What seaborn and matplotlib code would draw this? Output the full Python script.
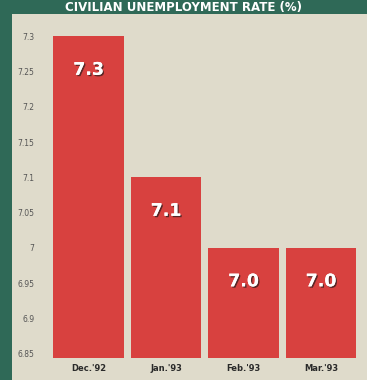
import matplotlib
matplotlib.use("Agg")
import matplotlib.pyplot as plt
import matplotlib.patheffects as pe
import seaborn as sns
import pandas as pd

months = ["Dec.'92", "Jan.'93", "Feb.'93", "Mar.'93"]
rates = [7.3, 7.1, 7.0, 7.0]
value_labels = ["7.3", "7.1", "7.0", "7.0"]
yticks = [6.85, 6.9, 6.95, 7.0, 7.05, 7.1, 7.15, 7.2, 7.25, 7.3]
ytick_labels = ["6.85", "6.9", "6.95", "7", "7.05", "7.1", "7.15", "7.2", "7.25", "7.3"]
title = "CIVILIAN UNEMPLOYMENT RATE (%)"

sns.set_theme(style="white")
plt.rcParams['font.family'] = ['DejaVu Sans']

GREEN = "#2f6957"
BEIGE = "#dfdbcb"
RED = "#d8413f"

fig = plt.figure(figsize=(3.67, 3.80), dpi=100)
fig.patch.set_facecolor(GREEN)

# beige panel as background axes
bg = fig.add_axes([12/367, 0, 1 - 12/367, 1 - 14/380], zorder=0)
bg.set_facecolor(BEIGE)
bg.set_xticks([])
bg.set_yticks([])
for s in bg.spines.values():
    s.set_visible(False)

fig.text(0.5, 1 - 7/380, title, ha="center", va="center", color="white",
         fontsize=8.5, fontweight="bold")

ax = fig.add_axes([49.75/367, 22/380, 310/367, 342/380], zorder=1)
ax.set_facecolor("none")

df = pd.DataFrame({"month": months, "rate": rates})
sns.barplot(data=df, x="month", y="rate", color=RED, saturation=1,
            width=0.916, ax=ax)
for p in ax.patches:
    p.set_edgecolor("none")

ax.set_ylim(6.844, 7.329)
ax.set_xlim(-0.5, 3.5)
ax.set_yticks(yticks)
ax.set_yticklabels(ytick_labels, fontsize=5.5, color="#555555")
ax.set_xticklabels(months, fontsize=6, fontweight="bold", color="#2a2a2a")
ax.tick_params(axis="both", length=0, pad=4)
ax.tick_params(axis="y", pad=11)
ax.set_xlabel("")
ax.set_ylabel("")
for s in ax.spines.values():
    s.set_visible(False)

for i, (v, lab) in enumerate(zip(rates, value_labels)):
    ax.annotate(lab, xy=(i, v), xytext=(0, -24), textcoords="offset points",
                ha="center", va="center", color="white", fontsize=12.5,
                fontweight="bold",
                path_effects=[pe.withSimplePatchShadow(offset=(1, -1),
                                                       shadow_rgbFace="#3a2020",
                                                       alpha=0.8),
                              pe.Normal()])

fig.savefig("out.png", dpi=100, facecolor=fig.get_facecolor())
